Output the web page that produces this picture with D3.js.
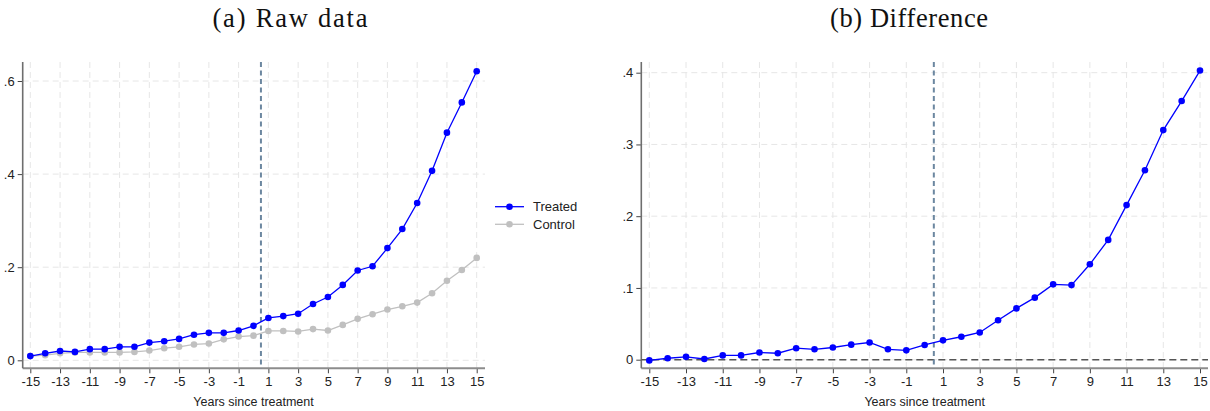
<!DOCTYPE html>
<html>
<head>
<meta charset="utf-8">
<script src="https://cdn.jsdelivr.net/npm/d3@7"></script>
<style>
  body { margin: 0; background: #fff; }
  svg { display: block; }
</style>
</head>
<body>
<svg id="chart" width="1210" height="411"></svg>
<script>
// ---- data ----
const years = d3.range(-15, 16);
const xTickLabels = [-15, -13, -11, -9, -7, -5, -3, -1, 1, 3, 5, 7, 9, 11, 13, 15];
const treated = [0.009, 0.015, 0.020, 0.018, 0.024, 0.024, 0.029, 0.029, 0.038, 0.041, 0.046, 0.055, 0.059, 0.059, 0.064, 0.074,
                 0.091, 0.095, 0.100, 0.121, 0.136, 0.162, 0.193, 0.202, 0.241, 0.282, 0.338, 0.407, 0.489, 0.554, 0.621];
const control = [0.009, 0.011, 0.015, 0.017, 0.017, 0.017, 0.017, 0.018, 0.021, 0.026, 0.029, 0.034, 0.036, 0.045, 0.051, 0.053,
                 0.063, 0.063, 0.062, 0.067, 0.064, 0.076, 0.089, 0.099, 0.109, 0.116, 0.124, 0.144, 0.171, 0.194, 0.220];
const difference = [-0.001, 0.002, 0.004, 0.001, 0.006, 0.006, 0.010, 0.009, 0.016, 0.0145, 0.017, 0.021, 0.024, 0.0145, 0.013, 0.0205,
                    0.027, 0.032, 0.038, 0.055, 0.0715, 0.0865, 0.105, 0.104, 0.133, 0.167, 0.2155, 0.264, 0.320, 0.3605, 0.403];
const yTicksRaw = [0, 0.2, 0.4, 0.6];
const yTicksDiff = [0, 0.1, 0.2, 0.3, 0.4];
const seriesNames = ["Treated", "Control"];
const treatmentLine = 0.5;

const svg = d3.select("#chart");
const BLUE = "#0000ff", GRAY = "#c0c0c0";
const fmtY = v => v === 0 ? "0" : d3.format(".1f")(v).replace(/^0/, "");
const fmtX = v => String(v);

function panel(opt) {
  const g = svg.append("g");
  const x = d3.scaleLinear().domain([-15, 15]).range(opt.xr);
  const y = d3.scaleLinear().domain(opt.yd).range(opt.yr);
  const top = 62, bottom = 368.3, left = opt.axisX, right = opt.right;

  // grid
  g.append("g").selectAll("line").data(xTickLabels).join("line")
    .attr("x1", d => x(d)).attr("x2", d => x(d)).attr("y1", top).attr("y2", bottom)
    .attr("stroke", "#e6e6e6").attr("stroke-width", 1).attr("stroke-dasharray", "6,4");
  g.append("g").selectAll("line").data(opt.yTicks).join("line")
    .attr("x1", left).attr("x2", right).attr("y1", d => y(d)).attr("y2", d => y(d))
    .attr("stroke", "#e6e6e6").attr("stroke-width", 1).attr("stroke-dasharray", "6,4");

  // axes
  const xAxis = d3.axisBottom(x).tickValues(xTickLabels).tickSize(5).tickPadding(3).tickFormat(fmtX);
  const gx = g.append("g").attr("transform", `translate(0,${bottom})`).call(xAxis);
  gx.select(".domain").remove();
  gx.append("line").attr("x1", left).attr("x2", right).attr("stroke", "#8c8c8c").attr("stroke-width", 2);
  gx.selectAll(".tick line").attr("stroke", "#444");
  gx.selectAll(".tick text").attr("font-family", "Liberation Sans, Arial, sans-serif").attr("font-size", 13).attr("fill", "#222");

  const yAxis = d3.axisLeft(y).tickValues(opt.yTicks).tickSize(5).tickPadding(3).tickFormat(fmtY);
  const gy = g.append("g").attr("transform", `translate(${left},0)`).call(yAxis);
  gy.select(".domain").remove();
  gy.append("line").attr("y1", top).attr("y2", bottom).attr("stroke", "#6e6e6e").attr("stroke-width", 1.6);
  gy.selectAll(".tick line").attr("stroke", "#444");
  gy.selectAll(".tick text").attr("font-family", "Liberation Sans, Arial, sans-serif").attr("font-size", 13).attr("fill", "#222");

  // zero reference line
  if (opt.zeroLine) {
    g.append("line").attr("x1", left).attr("x2", right).attr("y1", y(0)).attr("y2", y(0))
      .attr("stroke", "#555").attr("stroke-width", 1.6).attr("stroke-dasharray", "7,4");
  }
  // treatment line
  g.append("line").attr("x1", x(treatmentLine)).attr("x2", x(treatmentLine)).attr("y1", top).attr("y2", bottom)
    .attr("stroke", "#6c87a0").attr("stroke-width", 2).attr("stroke-dasharray", "5,3.5");

  // series
  const line = d3.line().x((d, i) => x(years[i])).y(d => y(d));
  opt.series.forEach(s => {
    g.append("path").datum(s.values).attr("d", line).attr("fill", "none")
      .attr("stroke", s.color).attr("stroke-width", 1.3);
    g.append("g").selectAll("circle").data(s.values).join("circle")
      .attr("cx", (d, i) => x(years[i])).attr("cy", d => y(d)).attr("r", 3.3).attr("fill", s.color);
  });

  // titles
  svg.append("text").attr("x", opt.titleX).attr("y", 27).attr("text-anchor", "middle")
    .attr("font-family", "Liberation Serif, Times New Roman, serif").attr("font-size", 26.5).attr("fill", "#111")
    .attr("textLength", opt.titleW).attr("lengthAdjust", "spacing")
    .text(opt.title);
  svg.append("text").attr("x", (opt.xr[0] + opt.xr[1]) / 2).attr("y", 406).attr("text-anchor", "middle")
    .attr("font-family", "Liberation Sans, Arial, sans-serif").attr("font-size", 12.5).attr("fill", "#222")
    .text("Years since treatment");
  return g;
}

panel({
  xr: [30.3, 476.7], yd: [0, 0.6], yr: [360.3, 81], axisX: 22.7, right: 485,
  yTicks: yTicksRaw, title: "(a) Raw data", titleX: 290, titleW: 155,
  series: [{ values: control, color: GRAY }, { values: treated, color: BLUE }]
});
panel({
  xr: [649.3, 1200], yd: [0, 0.4], yr: [359.7, 72.7], axisX: 641.3, right: 1208,
  yTicks: yTicksDiff, title: "(b) Difference", titleX: 909, titleW: 158, zeroLine: true,
  series: [{ values: difference, color: BLUE }]
});

// legend
const legend = svg.append("g");
const legendColors = [BLUE, GRAY];
seriesNames.forEach((name, i) => {
  const ly = 206.7 + i * 17.6;
  legend.append("line").attr("x1", 495).attr("x2", 524).attr("y1", ly).attr("y2", ly)
    .attr("stroke", legendColors[i]).attr("stroke-width", 1.3);
  legend.append("circle").attr("cx", 509.5).attr("cy", ly).attr("r", 3.3).attr("fill", legendColors[i]);
  legend.append("text").attr("x", 533).attr("y", ly).attr("dy", "0.35em")
    .attr("font-family", "Liberation Sans, Arial, sans-serif").attr("font-size", 13).attr("fill", "#222")
    .text(name);
});
</script>
</body>
</html>
